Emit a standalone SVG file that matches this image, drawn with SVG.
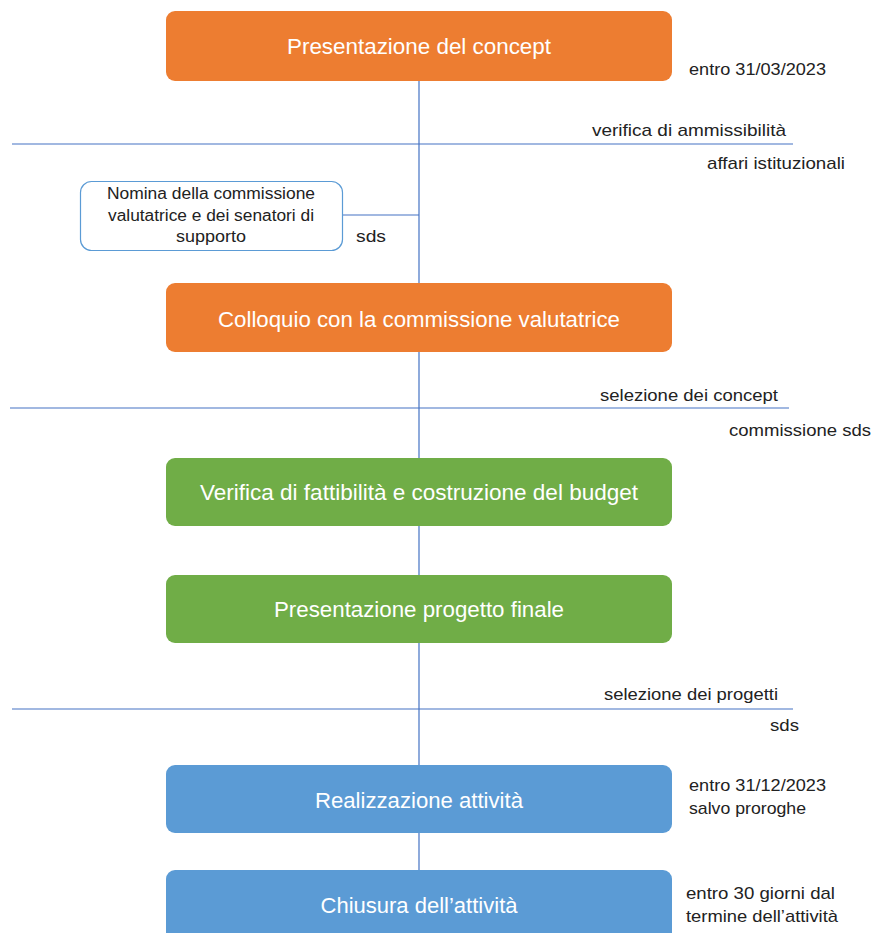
<svg xmlns="http://www.w3.org/2000/svg" width="875" height="933" viewBox="0 0 875 933">
<style>
.c{stroke:#4472C4;stroke-width:1.2;fill:none}
.t{font-family:"Liberation Sans",Arial,sans-serif;fill:#fff;font-size:22px;text-anchor:middle}
.s{font-family:"Liberation Sans",Arial,sans-serif;fill:#222;font-size:17px}
.n{font-family:"Liberation Sans",Arial,sans-serif;fill:#222;font-size:16px;text-anchor:middle}
.o{fill:#ED7D31}.g{fill:#70AD47}.b{fill:#5B9BD5}
</style>
<rect width="875" height="933" fill="#fff"/>
<g id="connectors">
<line class="c" x1="419" y1="81" x2="419" y2="283"/>
<line class="c" x1="12" y1="144" x2="793" y2="144"/>
<line class="c" x1="342" y1="215" x2="419" y2="215"/>
<line class="c" x1="419" y1="352" x2="419" y2="458"/>
<line class="c" x1="10" y1="408" x2="789" y2="408"/>
<line class="c" x1="419" y1="526" x2="419" y2="575"/>
<line class="c" x1="419" y1="643" x2="419" y2="765"/>
<line class="c" x1="12" y1="709" x2="793" y2="709"/>
<line class="c" x1="419" y1="833" x2="419" y2="870"/>
</g>
<g id="n1"><rect class="o" x="166" y="11" width="506" height="70" rx="9"/><text class="t" x="419" y="54" textLength="264" lengthAdjust="spacingAndGlyphs">Presentazione del concept</text></g>
<g id="n1note"><text class="s" x="689" y="75" textLength="137" lengthAdjust="spacingAndGlyphs">entro 31/03/2023</text></g>
<g id="l1"><text class="s" x="592" y="136" textLength="194" lengthAdjust="spacingAndGlyphs">verifica  di ammissibilità</text><text class="s" x="707" y="169" textLength="138" lengthAdjust="spacingAndGlyphs">affari  istituzionali</text></g>
<g id="nomina"><rect x="80.5" y="181.5" width="262" height="69" rx="11" fill="#fff" stroke="#5B9BD5" stroke-width="1.2"/>
<text class="n" x="211" y="199" textLength="208" lengthAdjust="spacingAndGlyphs">Nomina della commissione</text><text class="n" x="211" y="221" textLength="206" lengthAdjust="spacingAndGlyphs">valutatrice e dei senatori di</text><text class="n" x="211" y="242" textLength="70" lengthAdjust="spacingAndGlyphs">supporto</text></g>
<g id="sds1"><text class="s" x="356" y="242" textLength="30" lengthAdjust="spacingAndGlyphs">sds</text></g>
<g id="n2"><rect class="o" x="166" y="283" width="506" height="69" rx="9"/><text class="t" x="419" y="327" textLength="402" lengthAdjust="spacingAndGlyphs">Colloquio con la commissione valutatrice</text></g>
<g id="l2"><text class="s" x="600" y="401" textLength="178" lengthAdjust="spacingAndGlyphs">selezione dei concept</text><text class="s" x="729" y="436" textLength="142" lengthAdjust="spacingAndGlyphs">commissione sds</text></g>
<g id="n3"><rect class="g" x="166" y="458" width="506" height="68" rx="9"/><text class="t" x="419" y="500" textLength="438" lengthAdjust="spacingAndGlyphs">Verifica di fattibilità e costruzione del budget</text></g>
<g id="n4"><rect class="g" x="166" y="575" width="506" height="68" rx="9"/><text class="t" x="419" y="617" textLength="290" lengthAdjust="spacingAndGlyphs">Presentazione progetto finale</text></g>
<g id="l3"><text class="s" x="604" y="700" textLength="174" lengthAdjust="spacingAndGlyphs">selezione  dei progetti</text><text class="s" x="770" y="731" textLength="29" lengthAdjust="spacingAndGlyphs">sds</text></g>
<g id="n5"><rect class="b" x="166" y="765" width="506" height="68" rx="9"/><text class="t" x="419" y="808" textLength="208" lengthAdjust="spacingAndGlyphs">Realizzazione  attività</text></g>
<g id="n5note"><text class="s" x="689" y="791" textLength="137" lengthAdjust="spacingAndGlyphs">entro 31/12/2023</text><text class="s" x="689" y="814" textLength="117" lengthAdjust="spacingAndGlyphs">salvo  proroghe</text></g>
<g id="n6"><rect class="b" x="166" y="870" width="506" height="75" rx="9"/><text class="t" x="419" y="913" textLength="197" lengthAdjust="spacingAndGlyphs">Chiusura  dell’attività</text></g>
<g id="n6note"><text class="s" x="686" y="899" textLength="149" lengthAdjust="spacingAndGlyphs">entro 30 giorni dal</text><text class="s" x="686" y="922" textLength="152" lengthAdjust="spacingAndGlyphs">termine dell’attività</text></g>
</svg>
